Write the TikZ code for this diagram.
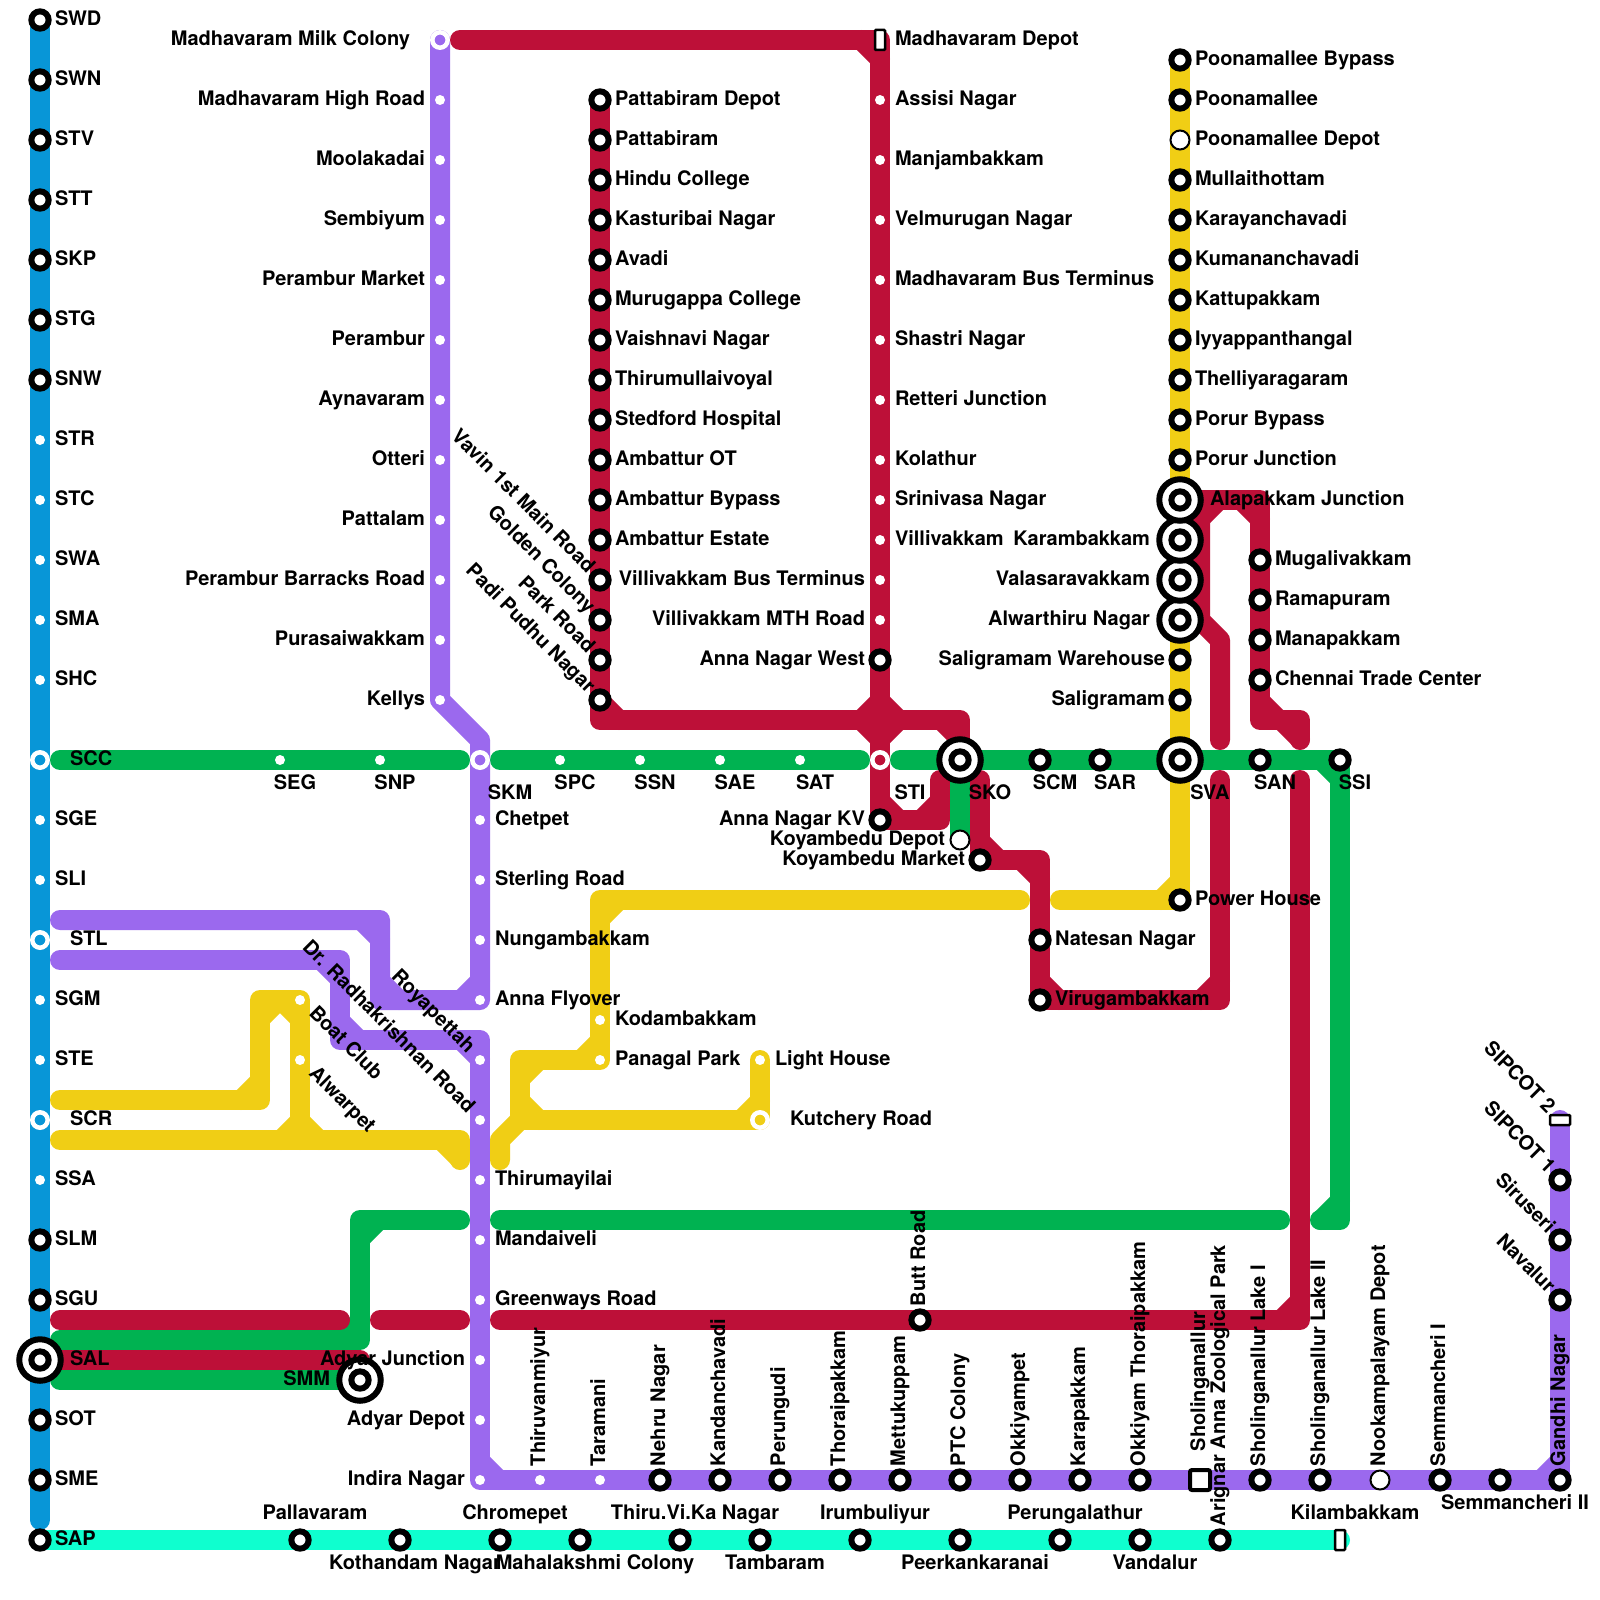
\documentclass[tikz,border=0pt]{standalone}
\usepackage{fontspec}
\setmainfont{TeX Gyre Heros}
\definecolor{mred}{HTML}{BD1038}
\definecolor{mblue}{HTML}{0896D7}
\definecolor{mgreen}{HTML}{00B251}
\definecolor{myellow}{HTML}{F0CE15}
\definecolor{mpurple}{HTML}{9B69EE}
\definecolor{mcyan}{HTML}{0FFFCF}
% id/x/y/text, grouped by where the label sits relative to the station
\def\listR{SWD/40/20/SWD,SWN/40/80/SWN,STV/40/140/STV,STT/40/200/STT,SKP/40/260/SKP,STG/40/320/STG,SNW/40/380/SNW,STR/40/440/STR,STC/40/500/STC,SWA/40/560/SWA,SMA/40/620/SMA,SHC/40/680/SHC,SGE/40/820/SGE,SLI/40/880/SLI,SGM/40/1000/SGM,STE/40/1060/STE,SSA/40/1180/SSA,SLM/40/1240/SLM,SGU/40/1300/SGU,SOT/40/1420/SOT,SME/40/1480/SME,SAP/40/1540/SAP,Chetpet/480/820/Chetpet,Sterling/480/880/Sterling Road,Nunga/480/940/Nungambakkam,AnnaF/480/1000/Anna Flyover,Thiruma/480/1180/Thirumayilai,Mandai/480/1240/Mandaiveli,Greenw/480/1300/Greenways Road,PatD/600/100/Pattabiram Depot,Patt/600/140/Pattabiram,Hindu/600/180/Hindu College,Kastu/600/220/Kasturibai Nagar,Avadi/600/260/Avadi,Muru/600/300/Murugappa College,Vaish/600/340/Vaishnavi Nagar,Thiru/600/380/Thirumullaivoyal,Sted/600/420/Stedford Hospital,AmbOT/600/460/Ambattur OT,AmbBy/600/500/Ambattur Bypass,AmbEs/600/540/Ambattur Estate,Kodam/600/1020/Kodambakkam,Panagal/600/1060/Panagal Park,Light/760/1060/Light House,MadD/880/40/Madhavaram Depot,Assisi/880/100/Assisi Nagar,Manj/880/160/Manjambakkam,Velm/880/220/Velmurugan Nagar,MadBT/880/280/Madhavaram Bus Terminus,Shastri/880/340/Shastri Nagar,Retteri/880/400/Retteri Junction,Kola/880/460/Kolathur,Srini/880/500/Srinivasa Nagar,Villi/880/540/Villivakkam,PooB/1180/60/Poonamallee Bypass,Poon/1180/100/Poonamallee,PooD/1180/140/Poonamallee Depot,Mull/1180/180/Mullaithottam,Kara/1180/220/Karayanchavadi,Kuma/1180/260/Kumananchavadi,Katt/1180/300/Kattupakkam,Iyya/1180/340/Iyyappanthangal,Thell/1180/380/Thelliyaragaram,PorB/1180/420/Porur Bypass,PorJ/1180/460/Porur Junction,Muga/1260/560/Mugalivakkam,Rama/1260/600/Ramapuram,Mana/1260/640/Manapakkam,Chen/1260/680/Chennai Trade Center,PowH/1180/900/Power House,Nate/1040/940/Natesan Nagar,Viru/1040/1000/Virugambakkam}
\def\listL{MadH/440/100/Madhavaram High Road,Moola/440/160/Moolakadai,Semb/440/220/Sembiyum,PerM/440/280/Perambur Market,Peram/440/340/Perambur,Ayna/440/400/Aynavaram,Otteri/440/460/Otteri,Patta/440/520/Pattalam,PerB/440/580/Perambur Barracks Road,Pura/440/640/Purasaiwakkam,Kelly/440/700/Kellys,AdyJ/480/1360/Adyar Junction,AdyD/480/1420/Adyar Depot,Indira/480/1480/Indira Nagar,VillB/880/580/Villivakkam Bus Terminus,VillM/880/620/Villivakkam MTH Road,AnnW/880/660/Anna Nagar West,AnKV/880/820/Anna Nagar KV,KoyD/960/840/Koyambedu Depot,KoyM/980/860/Koyambedu Market,SaliW/1180/660/Saligramam Warehouse,Sali/1180/700/Saligramam}
\def\listRR{SCC/40/760/SCC,STL/40/940/STL,SCR/40/1120/SCR,SAL/40/1360/SAL,Alap/1180/500/Alapakkam Junction,Kutch/760/1120/Kutchery Road}
\def\listLL{MilkC/440/40/Madhavaram Milk Colony,Karam/1180/540/Karambakkam,Vala/1180/580/Valasaravakkam,Alwar/1180/620/Alwarthiru Nagar,SMM/360/1380/SMM}
\def\listB{SEG/280/760/SEG,SNP/380/760/SNP,SPC/560/760/SPC,SSN/640/760/SSN,SAE/720/760/SAE,SAT/800/760/SAT,SCM/1040/760/SCM,SAR/1100/760/SAR,SAN/1260/760/SAN,SSI/1340/760/SSI,Koth/400/1540/Kothandam Nagar,Maha/580/1540/Mahalakshmi Colony,Tamb/760/1540/Tambaram,Peer/960/1540/Peerkankaranai,Vand/1140/1540/Vandalur,SemII/1500/1480/Semmancheri II}
\def\listA{Pall/300/1540/Pallavaram,Chro/500/1540/Chromepet,TVK/680/1540/Thiru.Vi.Ka Nagar,Irum/860/1540/Irumbuliyur,Peru/1060/1540/Perungalathur,Kilam/1340/1540/Kilambakkam}
\def\listBB{SKM/480/760/SKM,STI/880/760/STI,SKO/960/760/SKO,SVA/1180/760/SVA}
\def\listU{Tvan/540/1480/Thiruvanmiyur,Tara/600/1480/Taramani,Nehru/660/1480/Nehru Nagar,Kand/720/1480/Kandanchavadi,Perun/780/1480/Perungudi,Thor/840/1480/Thoraipakkam,Mett/900/1480/Mettukuppam,PTC/960/1480/PTC Colony,Okki/1020/1480/Okkiyampet,Karap/1080/1480/Karapakkam,OkkT/1140/1480/Okkiyam Thoraipakkam,LakeI/1260/1480/Sholinganallur Lake I,LakeII/1320/1480/Sholinganallur Lake II,Nook/1380/1480/Nookampalayam Depot,SemI/1440/1480/Semmancheri I,Gandhi/1560/1480/Gandhi Nagar,Butt/920/1320/Butt Road,Arig/1220/1540/Arignar Anna Zoological Park}
\def\listUU{Shol/1200/1480/Sholinganallur}
\def\listDE{Vavin/600/580/Vavin 1st Main Road,Golden/600/620/Golden Colony,ParkR/600/660/Park Road,Padi/600/700/Padi Pudhu Nagar,Roya/480/1060/Royapettah,Radha/480/1120/Dr. Radhakrishnan Road,SipII/1560/1120/SIPCOT 2,SipI/1560/1180/SIPCOT 1,Siru/1560/1240/Siruseri,Nava/1560/1300/Navalur}
\def\listDW{Boat/300/1000/Boat Club,Alwp/300/1060/Alwarpet}
% corners where the inner side of a turn is cut off
\newcommand\cham[4]{\draw[#1,line width=20pt,line cap=round] ([shift={(19*#3,0)}]#2) -- ([shift={(0,19*#4)}]#2);}
\tikzset{
  mline/.style={line width=20pt,line cap=round,line join=round},
  lb/.style={inner sep=0pt,outer sep=0pt,text=black,font=\bfseries\fontsize{20}{24}\selectfont},
  blk/.style={circle,draw=black,fill=white,line width=6pt,minimum size=17.3pt,inner sep=0pt,outer sep=0pt},
  dotw/.style={circle,fill=white,minimum size=10pt,inner sep=0pt,outer sep=0pt},
  ringw/.style={circle,draw=white,line width=4.5pt,minimum size=15.4pt,inner sep=0pt,outer sep=0pt},
  bigr/.style={circle,draw=black,fill=white,line width=6pt,minimum size=41.5pt,inner sep=0pt,outer sep=0pt},
  depot/.style={circle,draw=black,fill=white,line width=2pt,minimum size=19pt,inner sep=0pt,outer sep=0pt},
  term/.style={rectangle,rounded corners=1pt,draw=black,fill=white,line width=2.5pt,inner sep=0pt,outer sep=0pt},
}
\begin{document}
\begin{tikzpicture}[x=1pt,y=-1pt]
\useasboundingbox (0,0) rectangle (1600,1600);
\fill[white] (0,0) rectangle (1600,1600);
% station positions
\foreach \i/\x/\y/\tx in \listR {\coordinate (\i) at (\x,\y);}
\foreach \i/\x/\y/\tx in \listL {\coordinate (\i) at (\x,\y);}
\foreach \i/\x/\y/\tx in \listRR {\coordinate (\i) at (\x,\y);}
\foreach \i/\x/\y/\tx in \listLL {\coordinate (\i) at (\x,\y);}
\foreach \i/\x/\y/\tx in \listB {\coordinate (\i) at (\x,\y);}
\foreach \i/\x/\y/\tx in \listA {\coordinate (\i) at (\x,\y);}
\foreach \i/\x/\y/\tx in \listBB {\coordinate (\i) at (\x,\y);}
\foreach \i/\x/\y/\tx in \listU {\coordinate (\i) at (\x,\y);}
\foreach \i/\x/\y/\tx in \listUU {\coordinate (\i) at (\x,\y);}
\foreach \i/\x/\y/\tx in \listDE {\coordinate (\i) at (\x,\y);}
\foreach \i/\x/\y/\tx in \listDW {\coordinate (\i) at (\x,\y);}
% way points
\foreach \i/\x/\y in {bEnd/40/1520,
 gA/60/760,gB/460/760,gC/500/760,gD/860/760,gE/900/760,gF/1340/1220,gG/1320/1220,gH/500/1220,gI/1280/1220,gJ/460/1220,gK/360/1220,gL/360/1340,gM/60/1340,gN/60/1380,
 rA/460/40,rB/940/820,rC/940/780,rD/600/720,rE/960/720,rF/980/780,rG/1040/860,rH/1220/1000,rI/1220/780,rJ/1260/500,rK/1260/720,rL/1300/720,rM/1300/740,rN/1200/500,rO/1200/620,rP/1220/640,rQ/1220/740,rR/1180/600,rS/1300/780,rT/1300/1320,rU/500/1320,rV/460/1320,rW/380/1320,rX/340/1320,rY/60/1320,rZ/360/1360,rCross/880/720,
 yA/1060/900,yB/1020/900,yC/600/900,yD/520/1060,yE/520/1120,yF/500/1140,yG/500/1160,yH/60/1100,yI/260/1100,yJ/260/1000,yK/300/1140,yL/60/1140,yM/460/1140,yN/460/1160,
 pA/480/740,pB/380/1000,pC/380/920,pD/60/920,pE/60/960,pF/340/960,pG/340/1040,pH/480/1040}
 {\coordinate (\i) at (\x,\y);}
% lines
\draw[mline,mblue] (SWD) -- (bEnd);
\draw[mline,mcyan] (SAP) -- (Kilam);
\draw[mline,mgreen] (gA) -- (gB);
\draw[mline,mgreen] (gC) -- (gD);
\draw[mline,mgreen] (gE) -- (SSI) -- (gF) -- (gG);
\draw[mline,mgreen] (gH) -- (gI);
\draw[mline,mgreen] (gJ) -- (gK) -- (gL) -- (gM);
\draw[mline,mgreen] (gN) -- (SMM);
\draw[mline,mgreen] (SKO) -- (KoyD);
\cham{mgreen}{SSI}{-1}{1}\cham{mgreen}{gF}{-1}{-1}\cham{mgreen}{gK}{1}{1}\cham{mgreen}{gL}{-1}{-1}
\draw[mline,myellow] (PooB) -- (PowH) -- (yA);
\draw[mline,myellow] (yB) -- (yC) -- (Panagal) -- (yD) -- (yE) -- (Kutch) -- (Light);
\draw[mline,myellow] (yE) -- (yF) -- (yG);
\draw[mline,myellow] (yH) -- (yI) -- (yJ) -- (Boat) -- (yK);
\draw[mline,myellow] (yL) -- (yM) -- (yN);
\cham{myellow}{PowH}{-1}{-1}\cham{myellow}{yC}{1}{1}\cham{myellow}{Panagal}{-1}{-1}\cham{myellow}{yD}{1}{1}\cham{myellow}{yE}{1}{-1}\cham{myellow}{Kutch}{-1}{-1}\cham{myellow}{yI}{-1}{-1}\cham{myellow}{yJ}{1}{1}\cham{myellow}{Boat}{-1}{1}\cham{myellow}{yK}{-1}{-1}\cham{myellow}{yK}{1}{-1}\cham{myellow}{yM}{-1}{1}
\draw[mline,mpurple] (MilkC) -- (Kelly) -- (pA) -- (AnnaF) -- (pB) -- (pC) -- (pD);
\draw[mline,mpurple] (pE) -- (pF) -- (pG) -- (pH) -- (Indira) -- (Gandhi) -- (SipII);
\cham{mpurple}{AnnaF}{-1}{-1}\cham{mpurple}{pB}{1}{-1}\cham{mpurple}{pC}{-1}{1}\cham{mpurple}{pF}{-1}{1}\cham{mpurple}{pG}{1}{-1}\cham{mpurple}{pH}{-1}{1}\cham{mpurple}{Indira}{1}{-1}\cham{mpurple}{Gandhi}{-1}{-1}
\draw[mline,mred] (rA) -- (MadD) -- (AnKV) -- (rB) -- (rC);
\draw[mline,mred] (PatD) -- (rD) -- (rE) -- (SKO);
\draw[mline,mred] (rF) -- (KoyM) -- (rG) -- (Viru) -- (rH) -- (rI);
\draw[mline,mred] (Alap) -- (rJ) -- (rK) -- (rL) -- (rM);
\draw[mline,mred] (rN) -- (rO) -- (rP) -- (rQ);
\draw[mline,mred] (rR) -- (rO);
\draw[mline,mred] (rS) -- (rT) -- (rU);
\draw[mline,mred] (rV) -- (rW);
\draw[mline,mred] (rX) -- (rY);
\draw[mline,mred] (rZ) -- (SAL);
\cham{mred}{MadD}{-1}{1}\cham{mred}{rCross}{-1}{-1}\cham{mred}{rCross}{1}{-1}\cham{mred}{rCross}{-1}{1}\cham{mred}{rCross}{1}{1}\cham{mred}{rD}{1}{-1}\cham{mred}{rE}{-1}{1}\cham{mred}{AnKV}{1}{-1}\cham{mred}{rB}{-1}{-1}\cham{mred}{KoyM}{1}{-1}\cham{mred}{rG}{-1}{1}\cham{mred}{Viru}{1}{-1}\cham{mred}{rH}{-1}{-1}\cham{mred}{rN}{1}{1}\cham{mred}{rJ}{-1}{1}\cham{mred}{rK}{1}{-1}\cham{mred}{rL}{-1}{1}\cham{mred}{rT}{-1}{-1}
% station markers
\foreach \i in {STR,STC,SWA,SMA,SHC,SGE,SLI,SGM,STE,SSA,SEG,SNP,SPC,SSN,SAE,SAT,MadH,Moola,Semb,PerM,Peram,Ayna,Otteri,Patta,PerB,Pura,Kelly,Chetpet,Sterling,Nunga,AnnaF,Roya,Radha,Thiruma,Mandai,Greenw,AdyJ,AdyD,Indira,Tvan,Tara,Kodam,Panagal,Boat,Alwp,Light,Assisi,Manj,Velm,MadBT,Shastri,Retteri,Kola,Srini,Villi,VillB,VillM}
 {\node[dotw] (m\i) at (\i) {};}
\foreach \i in {SCC,STL,SCR,SKM,STI,MilkC,Kutch}
 {\node[ringw] (m\i) at (\i) {};}
\foreach \i in {SAL,SMM,SKO,SVA,Alwar,Vala,Karam,Alap}
 {\node[bigr] (b\i) at (\i) {};}
\foreach \i in {SWD,SWN,STV,STT,SKP,STG,SNW,SLM,SGU,SAL,SOT,SME,SAP,SMM,SKO,SVA,Alwar,Vala,Karam,Alap,SCM,SAR,SAN,SSI,PatD,Patt,Hindu,Kastu,Avadi,Muru,Vaish,Thiru,Sted,AmbOT,AmbBy,AmbEs,Vavin,Golden,ParkR,Padi,AnnW,AnKV,KoyM,Nate,Viru,PooB,Poon,Mull,Kara,Kuma,Katt,Iyya,Thell,PorB,PorJ,SaliW,Sali,PowH,Muga,Rama,Mana,Chen,Butt,Nehru,Kand,Perun,Thor,Mett,PTC,Okki,Karap,OkkT,LakeI,LakeII,SemI,SemII,Gandhi,Nava,Siru,SipI,Pall,Koth,Chro,Maha,TVK,Tamb,Irum,Peer,Peru,Vand,Arig}
 {\node[blk] (m\i) at (\i) {};}
\foreach \i in {KoyD,PooD,Nook}
 {\node[depot] (m\i) at (\i) {};}
\node[term,minimum width=10pt,minimum height=20pt] (mMadD) at (MadD) {};
\node[term,minimum width=10pt,minimum height=20pt] (mKilam) at (Kilam) {};
\node[term,minimum width=20pt,minimum height=10pt] (mSipII) at (SipII) {};
\node[term,line width=4pt,rounded corners=2pt,minimum width=20pt,minimum height=20pt] (mShol) at (Shol) {};
% labels
\foreach \i/\x/\y/\tx in \listR {\node[lb,anchor=base west] (l\i) at ([shift={(15,5.5)}]\i) {\tx};}
\foreach \i/\x/\y/\tx in \listL {\node[lb,anchor=base east] (l\i) at ([shift={(-15,5.5)}]\i) {\tx};}
\foreach \i/\x/\y/\tx in \listRR {\node[lb,anchor=base west] (l\i) at ([shift={(30,5.5)}]\i) {\tx};}
\foreach \i/\x/\y/\tx in \listLL {\node[lb,anchor=base east] (l\i) at ([shift={(-30,5.5)}]\i) {\tx};}
\foreach \i/\x/\y/\tx in \listB {\node[lb,anchor=base] (l\i) at ([shift={(15,29.5)}]\i) {\tx};}
\foreach \i/\x/\y/\tx in \listA {\node[lb,anchor=base] (l\i) at ([shift={(15,-20.5)}]\i) {\tx};}
\foreach \i/\x/\y/\tx in \listBB {\node[lb,anchor=base] (l\i) at ([shift={(30,39.5)}]\i) {\tx};}
\foreach \i/\x/\y/\tx in \listU {\node[lb,anchor=base west,rotate=90] (l\i) at ([shift={(5,-14)}]\i) {\tx};}
\foreach \i/\x/\y/\tx in \listUU {\node[lb,anchor=base west,rotate=90] (l\i) at ([shift={(5,-29)}]\i) {\tx};}
\foreach \i/\x/\y/\tx in \listDE {\node[lb,anchor=base east,rotate=-45] (l\i) at ([shift={(-13,-6)}]\i) {\tx};}
\foreach \i/\x/\y/\tx in \listDW {\node[lb,anchor=base west,rotate=-45] (l\i) at ([shift={(8,14)}]\i) {\tx};}
\end{tikzpicture}
\end{document}
